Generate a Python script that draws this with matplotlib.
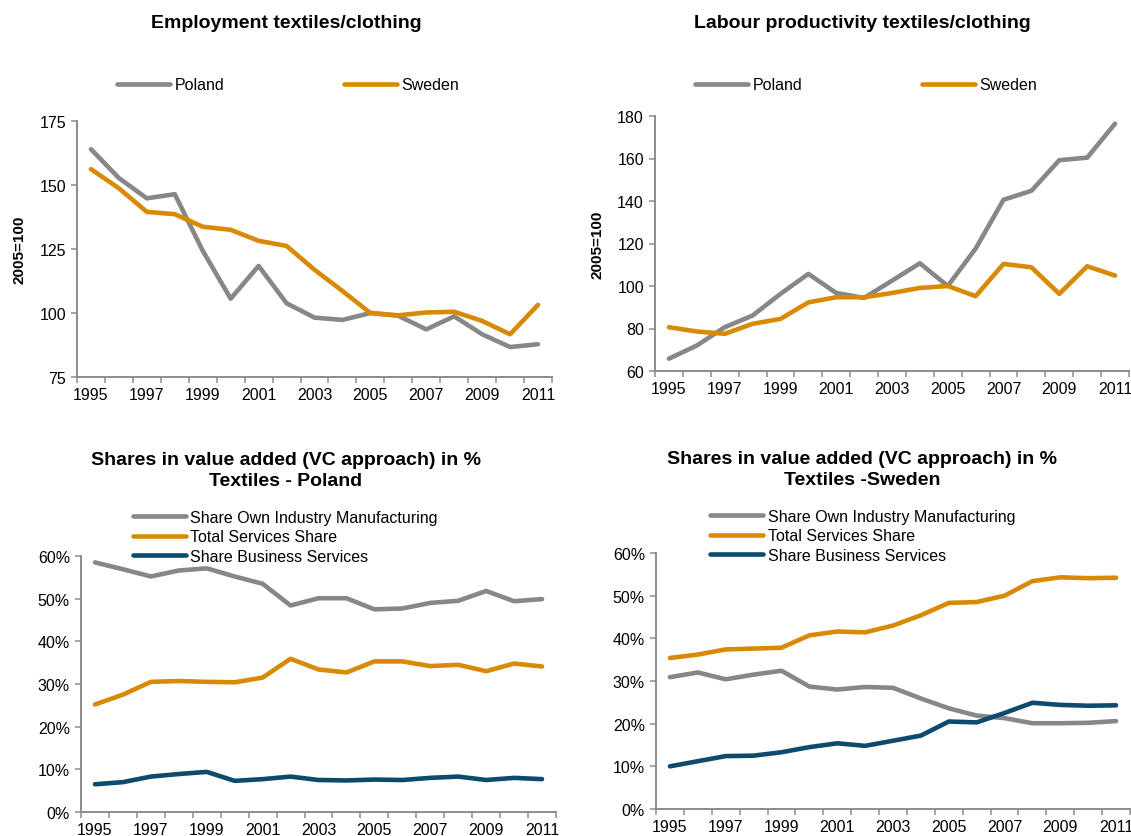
import numpy as np
import matplotlib
matplotlib.use("Agg")
import matplotlib.pyplot as plt
from matplotlib.ticker import PercentFormatter

plt.rcParams["font.family"] = ["Liberation Sans", "DejaVu Sans"]

years = list(range(1995, 2012))
year_labels = [str(y) for y in years[::2]]

# Index series, 2005=100
emp_poland = [164.0, 152.7, 144.8, 146.4, 124.3, 105.6, 118.4, 103.8, 98.2,
              97.3, 100.0, 98.9, 93.6, 98.7, 91.7, 86.7, 87.8]
emp_sweden = [156.2, 148.7, 139.5, 138.6, 133.7, 132.5, 128.2, 126.2, 116.9,
              108.6, 100.0, 99.1, 100.2, 100.5, 96.9, 91.7, 103.2]
prod_poland = [65.8, 72.0, 80.6, 86.1, 96.3, 105.7, 96.7, 94.4, 102.5,
               110.7, 100.0, 117.6, 140.6, 144.8, 159.2, 160.4, 176.4]
prod_sweden = [80.6, 78.6, 77.5, 82.2, 84.5, 92.3, 94.7, 94.7, 96.7,
               99.1, 100.0, 95.2, 110.4, 108.8, 96.3, 109.3, 104.9]

# Value-added shares, percent
pl_own_manuf = [58.5, 56.9, 55.2, 56.6, 57.1, 55.2, 53.5, 48.4, 50.1,
                50.1, 47.5, 47.7, 49.0, 49.5, 51.8, 49.4, 49.9]
pl_services = [25.2, 27.5, 30.5, 30.7, 30.5, 30.4, 31.5, 35.9, 33.4,
               32.7, 35.3, 35.3, 34.2, 34.5, 33.0, 34.8, 34.1]
pl_business = [6.5, 7.0, 8.3, 8.9, 9.4, 7.3, 7.7, 8.3, 7.5,
               7.4, 7.6, 7.5, 8.0, 8.3, 7.5, 8.0, 7.7]
se_own_manuf = [30.9, 32.0, 30.4, 31.5, 32.4, 28.7, 28.0, 28.6, 28.4,
                25.9, 23.6, 21.9, 21.3, 20.1, 20.1, 20.2, 20.6]
se_services = [35.4, 36.2, 37.4, 37.6, 37.8, 40.7, 41.6, 41.4, 43.0,
               45.4, 48.3, 48.5, 50.0, 53.4, 54.3, 54.1, 54.2]
se_business = [10.0, 11.2, 12.4, 12.5, 13.3, 14.5, 15.4, 14.8, 16.0,
               17.2, 20.5, 20.3, 22.5, 24.9, 24.4, 24.2, 24.3]

GREY = "#878787"
ORANGE = "#d98a04"
NAVY = "#0c4a6e"
AXIS = "#8c8c8c"

W, H = 1131, 837
fig = plt.figure(figsize=(W / 100, H / 100), dpi=100)


def px_axes(left, top, right, bottom):
    return fig.add_axes([left / W, 1 - bottom / H, (right - left) / W, (bottom - top) / H])


def style_axes(ax):
    x = np.arange(len(years))
    ax.set_xlim(-0.5, len(years) - 0.5)
    for side in ("top", "right"):
        ax.spines[side].set_visible(False)
    for side in ("left", "bottom"):
        ax.spines[side].set_color(AXIS)
        ax.spines[side].set_linewidth(1.4)
    # tick marks between categories, labels on every second year
    ax.set_xticks(np.arange(-0.5, len(years)), labels=[])
    ax.set_xticks(x[::2], labels=year_labels, minor=True)
    ax.tick_params(axis="x", which="major", length=4, width=1.1, color=AXIS)
    ax.tick_params(axis="x", which="minor", length=0, labelsize=11.5, pad=7)
    ax.tick_params(axis="y", length=4, width=1.1, color=AXIS, labelsize=11.5, pad=4)
    return x


def line(ax, x, y, color, label):
    ax.plot(x, y, color=color, lw=3.3, label=label,
            solid_capstyle="round", solid_joinstyle="round")


# Employment
ax1 = px_axes(77, 122, 552, 378)
x = style_axes(ax1)
line(ax1, x, emp_poland, GREY, "Poland")
line(ax1, x, emp_sweden, ORANGE, "Sweden")
ax1.set_ylim(75, 175)
ax1.set_yticks([75, 100, 125, 150, 175])

# Labour productivity
ax2 = px_axes(655, 117, 1129, 372)
x = style_axes(ax2)
line(ax2, x, prod_poland, GREY, "Poland")
line(ax2, x, prod_sweden, ORANGE, "Sweden")
ax2.set_ylim(60, 180)
ax2.set_yticks(range(60, 181, 20))

fig.text(20 / W, 1 - 250 / H, "2005=100", rotation=90, fontsize=11,
         fontweight="bold", ha="center", va="center")
fig.text(597 / W, 1 - 245 / H, "2005=100", rotation=90, fontsize=11,
         fontweight="bold", ha="center", va="center")

# Value-added shares
ax3 = px_axes(81, 557, 556, 813)
x = style_axes(ax3)
line(ax3, x, pl_own_manuf, GREY, "Share Own Industry Manufacturing")
line(ax3, x, pl_services, ORANGE, "Total Services Share")
line(ax3, x, pl_business, NAVY, "Share Business Services")

ax4 = px_axes(656, 554, 1130, 810)
x = style_axes(ax4)
line(ax4, x, se_own_manuf, GREY, "Share Own Industry Manufacturing")
line(ax4, x, se_services, ORANGE, "Total Services Share")
line(ax4, x, se_business, NAVY, "Share Business Services")

for ax in (ax3, ax4):
    ax.set_ylim(0, 60)
    ax.set_yticks(range(0, 61, 10))
    ax.yaxis.set_major_formatter(PercentFormatter(decimals=0))

legend_kw = dict(frameon=False, fontsize=11.5, handlelength=3.3, handletextpad=0.3,
                 borderpad=0, borderaxespad=0, bbox_transform=fig.transFigure)
ax1.legend(loc="center left", ncol=2, columnspacing=7.5,
           bbox_to_anchor=(117 / W, 1 - 86 / H), **legend_kw)
ax2.legend(loc="center left", ncol=2, columnspacing=7.5,
           bbox_to_anchor=(695 / W, 1 - 86 / H), **legend_kw)
ax3.legend(loc="center left", labelspacing=0.28,
           bbox_to_anchor=(133 / W, 1 - 538 / H), **legend_kw)
ax4.legend(loc="center left", labelspacing=0.28,
           bbox_to_anchor=(710 / W, 1 - 537 / H), **legend_kw)

title_kw = dict(fontsize=14, fontweight="bold", ha="center", va="center", linespacing=1.3)
fig.text(286 / W, 1 - 23 / H, "Employment textiles/clothing", **title_kw)
fig.text(862 / W, 1 - 23 / H, "Labour productivity textiles/clothing", **title_kw)
fig.text(286 / W, 1 - 471 / H, "Shares in value added (VC approach) in %\nTextiles - Poland", **title_kw)
fig.text(862 / W, 1 - 470 / H, "Shares in value added (VC approach) in %\nTextiles -Sweden", **title_kw)

fig.savefig("out.png", dpi=100)
